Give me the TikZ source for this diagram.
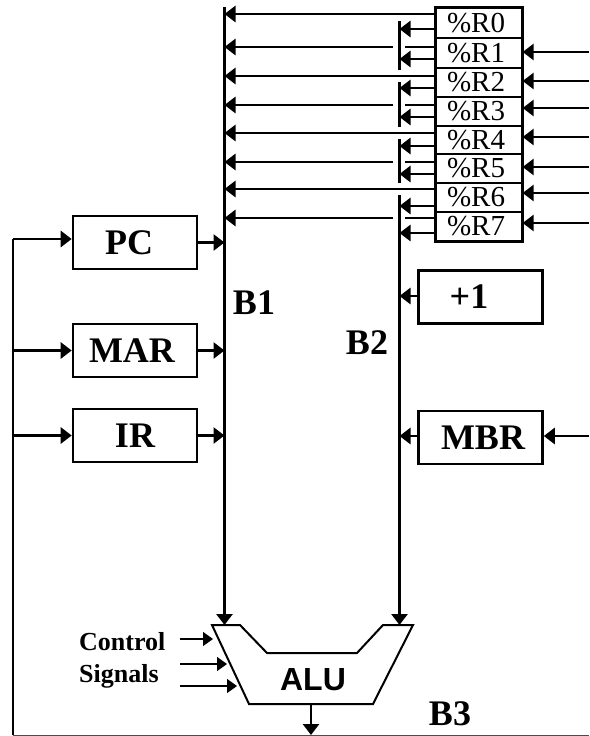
\documentclass[tikz,border=0pt]{standalone}
\usepackage{fontspec}
\setmainfont{Liberation Serif}
\setsansfont{Liberation Sans}
\usetikzlibrary{arrows.meta}
\tikzset{
  wire/.style={line width=2.8pt,-{Triangle[length=11pt,width=16pt]}},
  plain/.style={line width=2.8pt},
  thinwire/.style={line width=1.3pt,-{Triangle[length=10pt,width=14pt]}},
  regbox/.style={draw,line width=1.3pt,minimum width=86pt,minimum height=29pt,inner sep=0pt,font=\fontsize{29}{29}\selectfont},
  unitbox/.style={draw,line width=2.6pt,minimum width=124pt,minimum height=53pt,inner sep=0pt,font=\fontsize{36}{36}\selectfont\bfseries},
  buslabel/.style={inner sep=0pt,font=\fontsize{36}{36}\selectfont\bfseries},
  smalllabel/.style={inner sep=0pt,anchor=west,font=\fontsize{26}{26}\selectfont\bfseries},
}
\begin{document}
\begin{tikzpicture}[x=1pt,y=-1pt]
\useasboundingbox (0,0) rectangle (589,736);
% register file
\node[regbox] (r0) at (479,23) {\%R0\kern6pt};
\node[regbox] (r1) at (479,53) {\%R1\kern6pt};
\node[regbox] (r2) at (479,82.5) {\%R2\kern6pt};
\node[regbox] (r3) at (479,111.5) {\%R3\kern6pt};
\node[regbox] (r4) at (479,140) {\%R4\kern6pt};
\node[regbox] (r5) at (479,168.5) {\%R5\kern6pt};
\node[regbox] (r6) at (479,197.5) {\%R6\kern6pt};
\node[regbox] (r7) at (479,226.5) {\%R7\kern6pt};
\draw[line width=2.8pt] (r0.north west) rectangle (r7.south east);
% units
\node[unitbox] (pc) at (135,242.5) {PC\kern12pt};
\node[unitbox] (mar) at (135,350.5) {MAR\kern6pt};
\node[unitbox] (ir) at (135,435.5) {IR};
\node[unitbox] (inc) at (480.5,297) {+1\kern23pt};
\node[unitbox] (mbr) at (480.5,437.5) {\kern5pt MBR};
% ALU
\draw[line width=2pt,line join=miter] (212,625) coordinate (alua) -- (240,625) -- (267,653) -- (357,653) -- (383,625) -- (413,625) coordinate (alub) -- (373,704) -- (249,704) coordinate (aluc) -- cycle;
\node[inner sep=0pt,font=\fontsize{32}{32}\selectfont\sffamily\bfseries] (alu) at (313,680) {ALU};
% buses
\coordinate (b1top) at (224.5,7);
\coordinate (b1end) at (224.5,625);
\coordinate (b2end) at (399.5,625);
\draw[wire] (b1top) -- (b1end);
\draw[plain] (399.5,21) -- (399.5,70);
\draw[plain] (399.5,82) -- (399.5,127);
\draw[plain] (399.5,139) -- (399.5,183);
\draw[wire] (399.5,195) -- (b2end);
% register outputs to B1
\foreach \n/\y in {r0/14,r2/76,r4/133,r6/189}{
  \draw[wire] (\n.west |- 0,\y) -- (b1top |- 0,\y);
}
\foreach \n/\y in {r1/47,r3/105,r5/162,r7/218}{
  \draw[wire] (393,\y) -- (b1top |- 0,\y);
  \draw[plain] (\n.west |- 0,\y) -- (405,\y);
}
% register outputs to B2
\foreach \n/\y in {r0/29,r1/59,r2/88,r3/117,r4/146,r5/174,r6/206,r7/233}{
  \draw[wire] (\n.west |- 0,\y) -- (b2end |- 0,\y);
}
% register inputs
\foreach \n/\y in {r1/52,r2/81,r3/108,r4/137,r5/167,r6/193,r7/223}{
  \draw[wire] (589,\y) -- (\n.east |- 0,\y);
}
% unit connections
\coordinate (fb) at (13,735);
\draw[plain] (fb) -- (13,239) coordinate (fbt);
\draw[wire] (fbt) -- (pc.west |- fbt);
\draw[wire] (fb |- mar.west) -- (mar.west);
\draw[wire] (fb |- ir.west) -- (ir.west);
\draw[wire] (pc.east) -- (b1top |- pc.east);
\draw[wire] (mar.east) -- (b1top |- mar.east);
\draw[wire] (ir.east) -- (b1top |- ir.east);
\draw[wire] (inc.west |- 0,296) -- (b2end |- 0,296);
\draw[wire] (mbr.west |- 0,436) -- (b2end |- 0,436);
\draw[wire] (589,436) -- (mbr.east |- 0,436);
% B3
\coordinate (aluout) at (311,704);
\draw[wire] (aluout) -- (311,735);
\draw[line width=1pt,draw=black!70] (fb) -- (589,735);
% control
\draw[thinwire] (180,639) -- (213,639);
\draw[thinwire] (180,664) -- (227,664);
\draw[thinwire] (180,686) -- (237,686);
% labels
\node[buslabel] (b1) at (254,303) {B1};
\node[buslabel] (b2) at (367,343) {B2};
\node[buslabel] (b3) at (450,714) {B3};
\node[smalllabel] (ctl) at (79,642) {Control};
\node[smalllabel] (sig) at (79,676) {Signals};
\end{tikzpicture}
\end{document}
